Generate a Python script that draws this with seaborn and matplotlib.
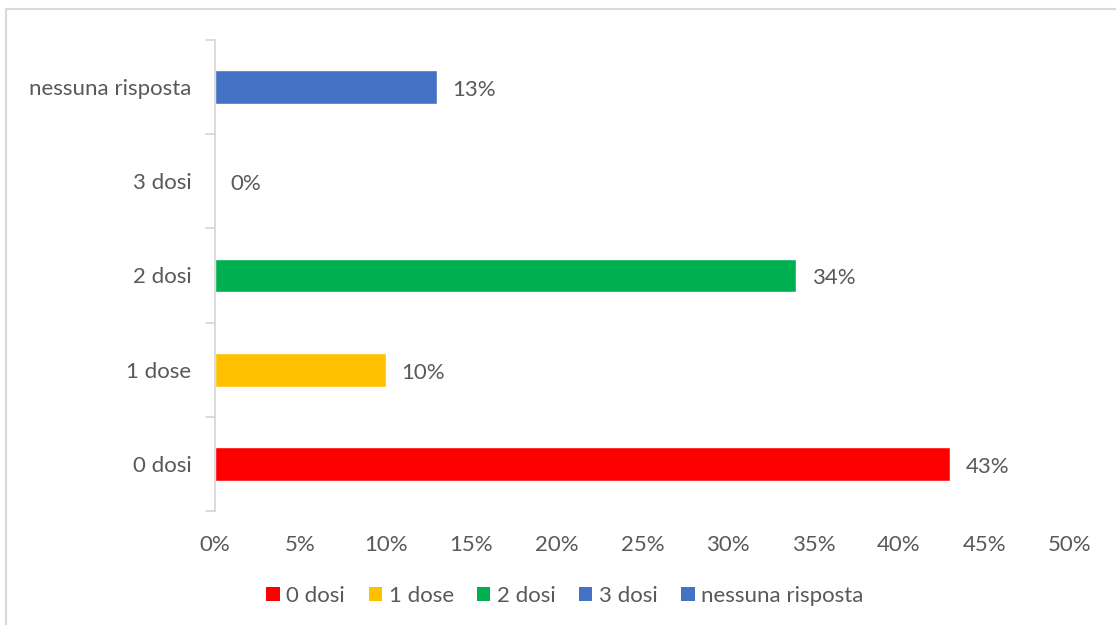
import matplotlib
matplotlib.use("Agg")
import matplotlib.pyplot as plt
from matplotlib.patches import Patch, Rectangle
from matplotlib.ticker import FuncFormatter, MultipleLocator
import seaborn as sns
import pandas as pd

# Responses, listed top to bottom as drawn
categories = ["nessuna risposta", "3 dosi", "2 dosi", "1 dose", "0 dosi"]
values = [13, 0, 34, 10, 43]
colors = ["#4472C4", "#4472C4", "#00B050", "#FFC000", "#FF0000"]
legend_order = ["0 dosi", "1 dose", "2 dosi", "3 dosi", "nessuna risposta"]

sns.set_theme(style="white")
plt.rcParams["font.family"] = ["Lato", "DejaVu Sans"]
text_color = "#595959"
axis_color = "#D9D9D9"
fs = 16

df = pd.DataFrame({"categoria": categories, "valore": values})
palette = dict(zip(categories, colors))

fig = plt.figure(figsize=(11.16, 6.25), dpi=100)
ax = fig.add_axes([215 / 1116, 1 - 511 / 625, (1070 - 215) / 1116, (511 - 40) / 625])

sns.barplot(data=df, y="categoria", x="valore", hue="categoria", order=categories,
            hue_order=categories, palette=palette, orient="h", width=0.36,
            saturation=1, legend=False, ax=ax)

ax.set_xlim(0, 50)
ax.set_ylim(len(categories) - 0.5, -0.5)
ax.xaxis.set_major_locator(MultipleLocator(5))
ax.xaxis.set_major_formatter(FuncFormatter(lambda v, _: f"{v:.0f}%"))
ax.set_xlabel("")
ax.set_ylabel("")

for s in ["top", "right", "bottom"]:
    ax.spines[s].set_visible(False)
ax.spines["left"].set_color(axis_color)
ax.spines["left"].set_linewidth(1.3)

# category labels without ticks, tick marks at the boundaries between categories
ax.tick_params(axis="y", length=0, pad=17, labelsize=fs, labelcolor=text_color)
ax.tick_params(axis="x", length=0, pad=17, labelsize=fs, labelcolor=text_color)
for b in [i - 0.5 for i in range(len(categories) + 1)]:
    ax.plot([-0.5, 0], [b, b], color=axis_color, lw=1.3, clip_on=False)

# value labels next to each bar
for i, v in enumerate(values):
    ax.text(v + 0.9, i + 0.03, f"{v}%", va="center", ha="left", fontsize=fs, color=text_color)

# legend along the bottom
legend_colors = {"0 dosi": "#FF0000", "1 dose": "#FFC000", "2 dosi": "#00B050",
                 "3 dosi": "#4472C4", "nessuna risposta": "#4472C4"}
handles = [Patch(facecolor=legend_colors[c], edgecolor="none", label=c) for c in legend_order]
fig.legend(handles=handles, loc="center", bbox_to_anchor=(565 / 1116, 1 - 596 / 625),
           ncol=5, frameon=False, fontsize=fs, labelcolor=text_color,
           handlelength=0.6, handleheight=0.6, handletextpad=0.3, columnspacing=1.05)

# light frame around the chart area
fig.patches.append(Rectangle((6 / 1116, -0.05), 1.2, 1 - 9 / 625 + 0.05,
                             transform=fig.transFigure, fill=False,
                             edgecolor="#D9D9D9", lw=1.5))

fig.savefig("out.png", dpi=100)
